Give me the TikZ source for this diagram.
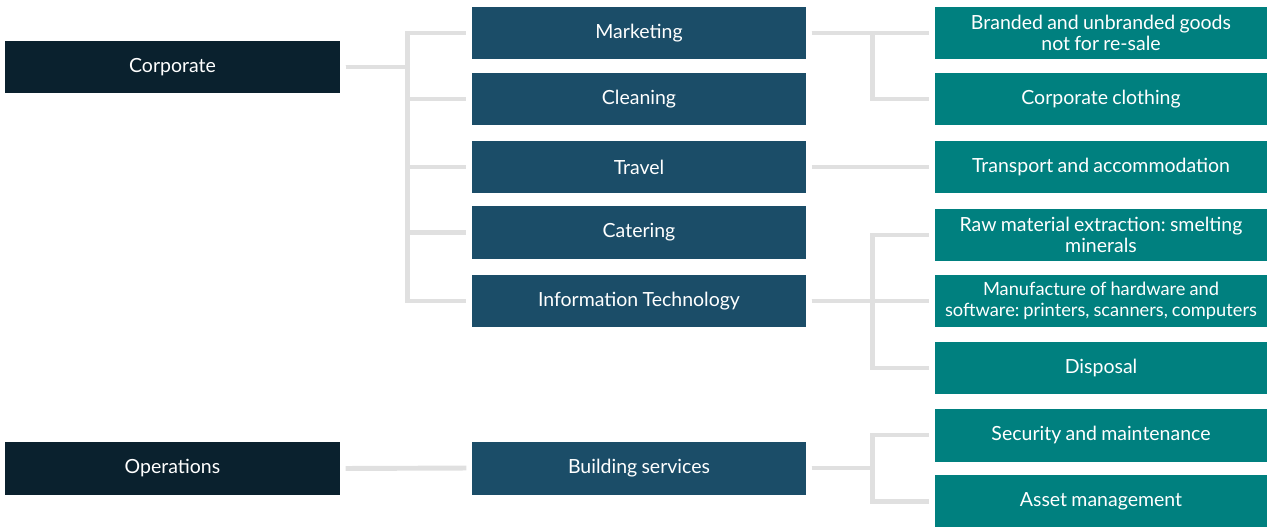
\documentclass[tikz,border=0pt]{standalone}
\usepackage{fontspec}
\setmainfont{Lato}[WordSpace=0.85]
\usetikzlibrary{positioning}

\definecolor{corpblue}{HTML}{0A212E}
\definecolor{midblue}{HTML}{1B4D68}
\definecolor{tealbox}{HTML}{00807F}
\definecolor{linkgray}{HTML}{E0E0E0}

\frenchspacing
\begin{document}
\begin{tikzpicture}
		[
		x=0.02cm, y=-0.02cm, font=\fontsize{11.1}{12.2}\selectfont,
		%Kästen
		box/.style={minimum height=1.06cm, inner sep=0pt, text=white, align=center},
		top/.style={box, fill=corpblue, minimum width=6.7cm},
		mid/.style={box, fill=midblue, minimum width=6.68cm},
		leaf/.style={box, fill=tealbox, minimum width=6.64cm},
		%Verbindungen
		link/.style={draw=linkgray, line width=2.8pt, shorten <=3pt, shorten >=3pt}
		]
		
		\useasboundingbox (0,0) rectangle (1267,527);
		
		%linke Spalte
		\node[top] (corp) at (172.5,67) {Corporate};
		\node[top] (ops) at (172.5,468.5) {Operations};
		
		%mittlere Spalte
		\node[mid] (mark) at (639,33) {Marketing};
		\node[mid] (clean) at (639,99) {Cleaning};
		\node[mid] (travel) at (639,167) {Travel};
		\node[mid] (cater) at (639,232.5) {Catering};
		\node[mid] (it) at (639,301) {Information Technology};
		\node[mid] (build) at (639,468) {Building services};
		
		%rechte Spalte
		\node[leaf] (goods) at (1101,33) {Branded and unbranded goods\\not for re-sale};
		\node[leaf] (cloth) at (1101,99) {Corporate clothing};
		\node[leaf] (trans) at (1101,167) {Transport and accommodation};
		\node[leaf] (raw) at (1101,235) {Raw material extraction: smelting\\minerals};
		\node[leaf, font=\fontsize{10.4}{11.8}\selectfont] (manu) at (1101,301) {Manufacture of hardware and\\software: printers, scanners, computers};
		\node[leaf] (disp) at (1101,368) {Disposal};
		\node[leaf] (secu) at (1101,435) {Security and maintenance};
		\node[leaf] (asset) at (1101,501.5) {Asset management};
		
		%Corporate -> Bereiche
		\foreach \m in {mark,clean,travel,cater,it}
		\draw[link] (corp.east) -- ++(67,0) |- (\m.west);
		
		%Marketing -> Güter
		\foreach \g in {goods,cloth}
		\draw[link] (mark.east) -- ++(66,0) |- (\g.west);
		
		%Travel
		\draw[link] (travel.east) -- (trans.west);
		
		%IT -> Güter
		\foreach \g in {raw,manu,disp}
		\draw[link] (it.east) -- ++(66,0) |- (\g.west);
		
		%Operations
		\draw[link] (ops.east) -- (build.west);
		\foreach \g in {secu,asset}
		\draw[link] (build.east) -- ++(66,0) |- (\g.west);
	\end{tikzpicture}
\end{document}
